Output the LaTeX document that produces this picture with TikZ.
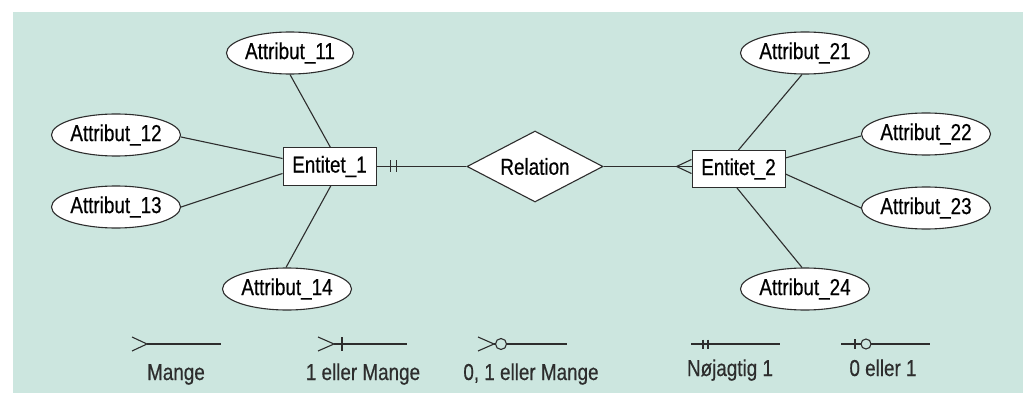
\documentclass[tikz,border=0pt]{standalone}
\usepackage{fontspec}
\setmainfont{Liberation Sans}[FakeStretch=0.82,FakeBold=0.5]
\usetikzlibrary{shapes.geometric}
\definecolor{panel}{RGB}{204,230,223}
\definecolor{ink}{RGB}{45,45,45}
\tikzset{
  lbl/.style={font=\fontsize{23}{23}\selectfont},
  attr/.style={lbl, ellipse, draw=ink, fill=white, line width=1.1pt, inner sep=0pt,
    minimum width=126pt, minimum height=42pt},
  entity/.style={lbl, rectangle, draw=ink, fill=white, line width=1pt, inner sep=0pt,
    minimum width=93pt, minimum height=37pt},
  rel/.style={lbl, diamond, draw=ink, fill=white, line width=1.1pt, inner sep=0pt, aspect=2,
    minimum width=136pt, minimum height=71pt},
  link/.style={draw=ink, line width=1.1pt},
  legtext/.style={lbl, anchor=base, inner sep=0pt, text=ink},
}
\begin{document}
\begin{tikzpicture}[x=1pt,y=-1pt]
  \useasboundingbox (0,0) rectangle (1023,393);
  \fill[panel] (13,12) rectangle (1023,393);

  % entities and relation
  \node[entity] (e1) at (329.5,166.5) {Entitet\_1};
  \node[entity] (e2) at (738.5,169) {Entitet\_2};
  \node[rel] (r) at (535,166.5) {Relation};

  % attributes of Entitet_1
  \node[attr] (a11) at (290,53) {Attribut\_11};
  \node[attr] (a12) at (116,135) {Attribut\_12};
  \node[attr] (a13) at (116,207) {Attribut\_13};
  \node[attr] (a14) at (287,289) {Attribut\_14};

  % attributes of Entitet_2
  \node[attr] (a21) at (805,53) {Attribut\_21};
  \node[attr] (a22) at (926,134) {Attribut\_22};
  \node[attr] (a23) at (926,208) {Attribut\_23};
  \node[attr] (a24) at (805,289) {Attribut\_24};

  % attribute links (y of the canvas points upward in shifts)
  \draw[link] (a11.south) -- ([xshift=1pt]e1.north);
  \draw[link] ([yshift=-2pt]a12.east) -- ([yshift=8pt]e1.west);
  \draw[link] (a13.east) -- ([yshift=-7pt]e1.west);
  \draw[link] ([xshift=-1pt]a14.north) -- ([xshift=1.5pt]e1.south);
  \draw[link] ([xshift=-3pt]a21.south) -- (e2.north);
  \draw[link] ([yshift=-2pt]a22.west) -- ([yshift=11pt]e2.east);
  \draw[link] (a23.west) -- ([yshift=-5pt]e2.east);
  \draw[link] ([xshift=-3pt]a24.north) -- ([xshift=-1.5pt]e2.south);

  % Entitet_1 -- Relation: exactly one
  \draw[link] (e1.east) -- (r.west);
  \draw[link] ([xshift=14pt]e1.east) ++(0,-6) -- ++(0,12);
  \draw[link] ([xshift=20pt]e1.east) ++(0,-6) -- ++(0,12);

  % Relation -- Entitet_2: many
  \coordinate (foot) at (r.east -| e2.west);
  \coordinate (fork) at ([xshift=-15pt]foot);
  \draw[link] (r.east) -- (foot);
  \draw[link] (fork) -- ([yshift=7pt]foot);
  \draw[link] (fork) -- ([yshift=-7pt]foot);

  % legend: Mange
  \coordinate (m1) at (147,344);
  \draw[link] (132,337) -- (m1) -- (132,351);
  \draw[link] (m1) -- (221,344);
  \node[legtext] (lm1) at (176,380) {Mange};

  % legend: 1 eller Mange
  \coordinate (m2) at (334,344);
  \draw[link] (318,337) -- (m2) -- (318,351);
  \draw[link] (m2) -- (407,344);
  \draw[link] (342,337) -- (342,351);
  \node[legtext] (lm2) at (363,380) {1 eller Mange};

  % legend: 0, 1 eller Mange
  \coordinate (m3) at (494,344);
  \draw[link] (478,337) -- (m3) -- (478,351);
  \draw[link] (m3) -- (567,344);
  \draw[link, fill=panel] (501,344) circle (5.5);
  \node[legtext] (lm3) at (531,380) {0, 1 eller Mange};

  % legend: Nøjagtig 1
  \draw[link] (691,344) -- (780,344);
  \draw[link] (703,339.5) -- (703,348.5);
  \draw[link] (708,339.5) -- (708,348.5);
  \node[legtext] (lm4) at (730,376) {Nøjagtig 1};

  % legend: 0 eller 1
  \draw[link] (841,344) -- (930,344);
  \draw[link] (855,339) -- (855,349);
  \draw[link, fill=panel] (866,344) circle (5);
  \node[legtext] (lm5) at (883,376) {0 eller 1};
\end{tikzpicture}
\end{document}
